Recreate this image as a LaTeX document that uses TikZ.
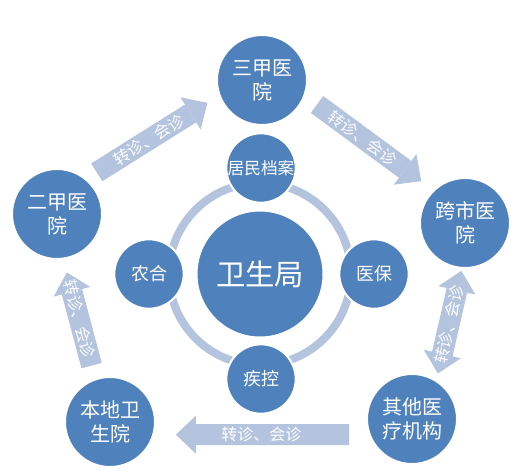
\documentclass[tikz,border=0pt]{standalone}
\usepackage{fontspec}
\setmainfont{Noto Sans CJK SC}
\usepackage{tikz}
\usetikzlibrary{arrows.meta}
\usepackage{xcolor}
\definecolor{azul}{HTML}{4F81BD}
\definecolor{azulclaro}{RGB}{180,195,222}

\begin{document}
\begin{tikzpicture}[x=0.75pt, y=-0.75pt,
    >={Triangle[length=15pt, width=28.5pt, line width=0pt]},
    orgao/.style={circle, fill=azul, draw=white, line width=1.5pt, text=white, align=center, inner sep=0pt},
    hosp/.style={orgao, minimum size=67.5pt, font=\fontsize{15}{18}\selectfont},
    setor/.style={orgao, minimum size=52pt, font=\fontsize{13.5}{16}\selectfont},
    fluxo/.style={azulclaro, line width=15.75pt, ->},
    rotulo/.style={sloped, text=white, font=\fontsize{12}{14}\selectfont}]
    \useasboundingbox (0,0) rectangle (532,471);

    % Centro e anel
    \node[orgao, minimum size=95.25pt, font=\fontsize{22}{26}\selectfont] (wsj) at (260,274) {卫生局};
    \draw[azulclaro, line width=6pt] (wsj.center) circle (68.25pt);

    % Setores
    \node[setor, font=\fontsize{12.5}{15}\selectfont] (dangan) at (261,168) {居民档案};
    \node[setor] (nonghe) at (149,274) {农合};
    \node[setor] (yibao) at (374,274) {医保};
    \node[setor] (jikong) at (261,379) {疾控};

    % Hospitais
    \node[hosp] (sanjia) at (262,80) {三甲医\\院};
    \node[hosp] (kuashi) at (465,223) {跨市医\\院};
    \node[hosp] (qita) at (412,419) {其他医\\疗机构};
    \node[hosp] (bendi) at (110,422) {本地卫\\生院};
    \node[hosp] (erjia) at (57,214) {二甲医\\院};

    % Setas
    \draw[fluxo, shorten <=9pt, shorten >=10pt] (erjia.50) -- node[rotulo, pos=0.47] {转诊、会诊} (sanjia.200);
    \draw[fluxo, shorten <=11pt, shorten >=11pt] (sanjia.-20) -- node[rotulo, pos=0.45] {转诊、会诊} (kuashi.134);
    \draw[fluxo, <->, shorten <=5pt, shorten >=1.5pt] (qita.58) -- node[rotulo] {转诊、会诊} (kuashi.266);
    \draw[fluxo, shorten <=10pt, shorten >=10pt] (bendi.109) -- node[rotulo] {转诊、会诊} (erjia.-82);
    \draw[fluxo, shorten <=14.7pt, shorten >=16.2pt] (qita.200) -- node[rotulo] {转诊、会诊} (bendi.-16);
\end{tikzpicture}
\end{document}
